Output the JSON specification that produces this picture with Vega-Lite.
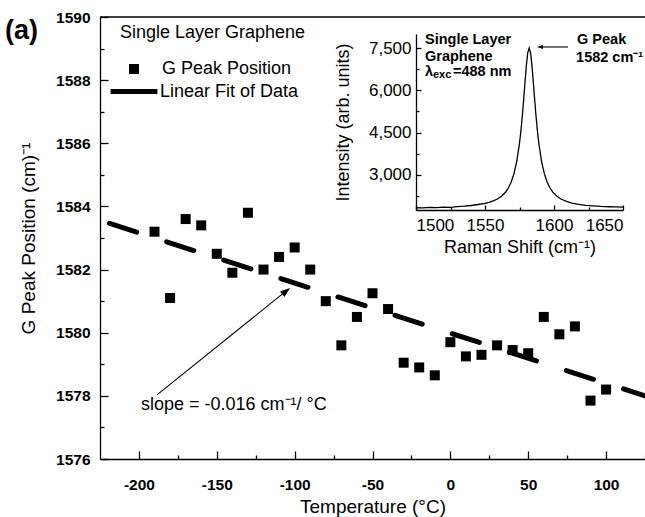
{
  "$schema": "https://vega.github.io/schema/vega-lite/v6.json",
  "width": 545,
  "height": 442,
  "autosize": {"type": "none"},
  "padding": {"left": 100, "top": 17, "right": 0, "bottom": 58},
  "background": "white",
  "config": {
    "view": {"stroke": null},
    "font": "Liberation Sans",
    "axis": {"domainColor": "black", "tickColor": "black", "labelColor": "black", "titleColor": "black", "grid": false, "domainWidth": 1.3, "tickWidth": 1.3, "labelFont": "Liberation Sans", "titleFont": "Liberation Sans"},
    "legend": {"titleFont": "Liberation Sans", "labelFont": "Liberation Sans", "titleColor": "black", "labelColor": "black", "titleLimit": 400, "labelLimit": 400},
    "text": {"font": "Liberation Sans", "color": "black"}
  },
  "datasets": {
    "peaks": [
      {"temperature": -190, "position": 1583.2},
      {"temperature": -180, "position": 1581.1},
      {"temperature": -170, "position": 1583.6},
      {"temperature": -160, "position": 1583.4},
      {"temperature": -150, "position": 1582.5},
      {"temperature": -140, "position": 1581.9},
      {"temperature": -130, "position": 1583.8},
      {"temperature": -120, "position": 1582.0},
      {"temperature": -110, "position": 1582.4},
      {"temperature": -100, "position": 1582.7},
      {"temperature": -90, "position": 1582.0},
      {"temperature": -80, "position": 1581.0},
      {"temperature": -70, "position": 1579.6},
      {"temperature": -60, "position": 1580.5},
      {"temperature": -50, "position": 1581.25},
      {"temperature": -40, "position": 1580.75},
      {"temperature": -30, "position": 1579.05},
      {"temperature": -20, "position": 1578.9},
      {"temperature": -10, "position": 1578.65},
      {"temperature": 0, "position": 1579.7},
      {"temperature": 10, "position": 1579.25},
      {"temperature": 20, "position": 1579.3},
      {"temperature": 30, "position": 1579.6},
      {"temperature": 40, "position": 1579.45},
      {"temperature": 50, "position": 1579.35},
      {"temperature": 60, "position": 1580.5},
      {"temperature": 70, "position": 1579.95},
      {"temperature": 80, "position": 1580.2},
      {"temperature": 90, "position": 1577.85},
      {"temperature": 100, "position": 1578.2}
    ],
    "fit": [
      {"temperature": -225, "position": 1583.56},
      {"temperature": 125, "position": 1578.0}
    ],
    "spectrum": [
      {"shift": 1500, "intensity": 1830},
      {"shift": 1505, "intensity": 1822},
      {"shift": 1510, "intensity": 1840},
      {"shift": 1515, "intensity": 1836},
      {"shift": 1520, "intensity": 1852},
      {"shift": 1525, "intensity": 1846},
      {"shift": 1530, "intensity": 1872},
      {"shift": 1535, "intensity": 1885},
      {"shift": 1540, "intensity": 1910},
      {"shift": 1545, "intensity": 1945},
      {"shift": 1550, "intensity": 1985},
      {"shift": 1553, "intensity": 2020},
      {"shift": 1556, "intensity": 2075},
      {"shift": 1559, "intensity": 2140},
      {"shift": 1562, "intensity": 2240},
      {"shift": 1565, "intensity": 2390},
      {"shift": 1567, "intensity": 2540},
      {"shift": 1569, "intensity": 2745},
      {"shift": 1571, "intensity": 3040},
      {"shift": 1573, "intensity": 3470},
      {"shift": 1575, "intensity": 4120},
      {"shift": 1576, "intensity": 4552},
      {"shift": 1577, "intensity": 5068},
      {"shift": 1578, "intensity": 5661},
      {"shift": 1579, "intensity": 6296},
      {"shift": 1580, "intensity": 6894},
      {"shift": 1581, "intensity": 7335},
      {"shift": 1582, "intensity": 7500},
      {"shift": 1583, "intensity": 7335},
      {"shift": 1584, "intensity": 6894},
      {"shift": 1585, "intensity": 6296},
      {"shift": 1586, "intensity": 5661},
      {"shift": 1587, "intensity": 5068},
      {"shift": 1588, "intensity": 4552},
      {"shift": 1589, "intensity": 4120},
      {"shift": 1591, "intensity": 3470},
      {"shift": 1593, "intensity": 3040},
      {"shift": 1595, "intensity": 2745},
      {"shift": 1597, "intensity": 2540},
      {"shift": 1599, "intensity": 2395},
      {"shift": 1602, "intensity": 2245},
      {"shift": 1605, "intensity": 2140},
      {"shift": 1609, "intensity": 2055},
      {"shift": 1613, "intensity": 1995},
      {"shift": 1618, "intensity": 1950},
      {"shift": 1623, "intensity": 1915},
      {"shift": 1628, "intensity": 1898},
      {"shift": 1634, "intensity": 1876},
      {"shift": 1640, "intensity": 1866},
      {"shift": 1645, "intensity": 1858},
      {"shift": 1650, "intensity": 1852}
    ]
  },
  "layer": [
    {
      "layer": [
        {
          "data": {"name": "fit"},
          "mark": {"type": "line", "strokeWidth": 5, "strokeCap": "round", "strokeDash": [28.5, 31.5], "strokeDashOffset": 50},
          "encoding": {
            "x": {"field": "temperature", "type": "quantitative", "scale": {"domain": [-225, 125], "nice": false, "zero": false},
              "axis": {"orient": "bottom", "values": [-175, -125, -75, -25, 25, 75, 125], "tickSize": -4, "labels": false, "domain": false, "title": null}},
            "y": {"field": "position", "type": "quantitative", "scale": {"domain": [1576, 1590], "nice": false, "zero": false},
              "axis": {"orient": "left", "values": [1577, 1579, 1581, 1583, 1585, 1587, 1589], "tickSize": -4, "labels": false, "domain": false, "title": null}},
            "color": {"datum": "Linear Fit of Data", "type": "nominal",
              "scale": {"range": ["black"]},
              "legend": {
                "orient": "none", "legendX": 8, "legendY": 48.5, "padding": 0, "title": null,
                "labelFontSize": 18, "labelOffset": 0,
                "symbolType": "stroke", "symbolSize": 2200, "symbolStrokeWidth": 5, "symbolStrokeColor": "black", "symbolDash": [1, 0], "symbolOpacity": 1
              }}
          }
        },
        {
          "data": {"name": "peaks"},
          "mark": {"type": "point", "filled": true, "size": 100, "opacity": 1, "color": "black"},
          "encoding": {
            "x": {"field": "temperature", "type": "quantitative",
              "axis": {"orient": "bottom", "values": [-200, -150, -100, -50, 0, 50, 100], "labelExpr": "datum.value + ''", "tickSize": -8, "labelPadding": 26, "labelFontSize": 15.5, "labelFontWeight": "bold", "title": "Temperature (°C)", "titleFontSize": 19, "titleFontWeight": "normal", "titlePadding": 5}},
            "y": {"field": "position", "type": "quantitative",
              "axis": {"orient": "left", "values": [1576, 1578, 1580, 1582, 1584, 1586, 1588, 1590], "format": "d", "tickSize": -8, "labelPadding": 18, "labelFontSize": 15.5, "labelFontWeight": "bold", "title": "G Peak Position (cm)⁻¹", "titleFontSize": 19, "titleFontWeight": "normal", "titlePadding": 17}},
            "shape": {"datum": "G Peak Position", "type": "nominal",
              "scale": {"range": ["square"]},
              "legend": {
                "orient": "none", "legendX": 20, "legendY": 7, "padding": 0,
                "title": "Single Layer Graphene", "titleFontSize": 18, "titleFontWeight": "normal", "titlePadding": 18,
                "labelFontSize": 18, "labelOffset": 19,
                "symbolSize": 100, "symbolOffset": 5, "symbolFillColor": "black", "symbolStrokeWidth": 0, "symbolOpacity": 1
              }}
          }
        },
        {
          "data": {"values": [{}]},
          "mark": {"type": "rule", "color": "black", "strokeWidth": 1.3},
          "encoding": {"y": {"datum": 1590, "type": "quantitative", "axis": null}}
        },
        {
          "data": {"values": [{}]},
          "mark": {"type": "rule", "color": "black", "strokeWidth": 1.1},
          "encoding": {
            "x": {"datum": -188.4, "type": "quantitative", "axis": null},
            "y": {"datum": 1578.03, "type": "quantitative", "axis": null},
            "x2": {"datum": -104},
            "y2": {"datum": 1581.38}
          }
        },
        {
          "data": {"values": [{}]},
          "mark": {"type": "point", "shape": "M0,0 L-0.35,1 L0.35,1 Z", "size": 400, "filled": true, "color": "black", "opacity": 1, "angle": 51},
          "encoding": {
            "x": {"datum": -103, "type": "quantitative", "axis": null},
            "y": {"datum": 1581.42, "type": "quantitative", "axis": null}
          }
        },
        {
          "data": {"values": [{}]},
          "mark": {"type": "text", "text": "slope = -0.016 cm⁻¹/ °C", "fontSize": 18, "align": "center", "baseline": "middle"},
          "encoding": {
            "x": {"datum": -139, "type": "quantitative", "axis": null},
            "y": {"datum": 1577.71, "type": "quantitative", "axis": null}
          }
        },
        {
          "data": {"values": [{}]},
          "mark": {"type": "text", "text": "(a)", "fontSize": 27, "fontWeight": "bold", "align": "center", "baseline": "middle"},
          "encoding": {
            "x": {"datum": -275.4, "type": "quantitative", "axis": null},
            "y": {"datum": 1589.55, "type": "quantitative", "axis": null}
          }
        }
      ],
      "resolve": {"axis": {"x": "independent", "y": "independent"}}
    },
    {
      "layer": [
        {
          "data": {"name": "spectrum"},
          "mark": {"type": "line", "color": "black", "strokeWidth": 1.3},
          "encoding": {
            "x": {"field": "shift", "type": "quantitative", "scale": {"domain": [1500, 1650], "range": [316, 523], "nice": false, "zero": false},
              "axis": {"orient": "bottom", "offset": -249, "values": [1500, 1550, 1600, 1650], "format": "d", "tickSize": -5, "labelPadding": 12, "labelFontSize": 17, "labelFontWeight": "normal", "title": "Raman Shift (cm⁻¹)", "titleFontSize": 18, "titleFontWeight": "normal", "titlePadding": 5}},
            "y": {"field": "intensity", "type": "quantitative", "scale": {"domain": [1750, 8000], "range": [193, 17], "nice": false, "zero": false},
              "axis": {"orient": "left", "offset": -316, "values": [3000, 4500, 6000, 7500], "format": ",d", "tickSize": -5, "labelPadding": 10, "labelFontSize": 17, "labelFontWeight": "normal", "title": "Intensity (arb. units)", "titleFontSize": 18, "titleFontWeight": "normal", "titlePadding": 16}}
          }
        },
        {
          "data": {"values": [{}]},
          "mark": {"type": "rule", "color": "black", "strokeWidth": 1.1},
          "encoding": {
            "x": {"datum": 1610.1, "type": "quantitative",
              "axis": {"orient": "bottom", "offset": -249, "values": [1525, 1575, 1625], "tickSize": -3, "labels": false, "domain": false, "title": null}},
            "x2": {"datum": 1589},
            "y": {"datum": 7539, "type": "quantitative",
              "axis": {"orient": "left", "offset": -316, "values": [2250, 3750, 5250, 6750], "tickSize": -3, "labels": false, "domain": false, "title": null}}
          }
        },
        {
          "data": {"values": [{}]},
          "mark": {"type": "point", "shape": "M0,0 L-0.35,1 L0.35,1 Z", "size": 144, "filled": true, "color": "black", "opacity": 1, "angle": 270},
          "encoding": {
            "x": {"datum": 1587.7, "type": "quantitative", "axis": null},
            "y": {"datum": 7539, "type": "quantitative", "axis": null}
          }
        },
        {
          "data": {"values": [{}]},
          "mark": {"type": "text", "text": "Single Layer", "fontSize": 14.5, "fontWeight": "bold", "align": "left", "baseline": "middle"},
          "encoding": {
            "x": {"datum": 1506.5, "type": "quantitative", "axis": null},
            "y": {"datum": 7787, "type": "quantitative", "axis": null}
          }
        },
        {
          "data": {"values": [{}]},
          "mark": {"type": "text", "text": "Graphene", "fontSize": 14.5, "fontWeight": "bold", "align": "left", "baseline": "middle"},
          "encoding": {
            "x": {"datum": 1506.5, "type": "quantitative", "axis": null},
            "y": {"datum": 7195, "type": "quantitative", "axis": null}
          }
        },
        {
          "data": {"values": [{}]},
          "mark": {"type": "text", "text": "λ", "fontSize": 14.5, "fontWeight": "bold", "align": "left", "baseline": "middle"},
          "encoding": {
            "x": {"datum": 1506.5, "type": "quantitative", "axis": null},
            "y": {"datum": 6663, "type": "quantitative", "axis": null}
          }
        },
        {
          "data": {"values": [{}]},
          "mark": {"type": "text", "text": "exc", "fontSize": 11, "fontWeight": "bold", "align": "left", "baseline": "middle", "dx": 8, "dy": 3},
          "encoding": {
            "x": {"datum": 1506.5, "type": "quantitative", "axis": null},
            "y": {"datum": 6663, "type": "quantitative", "axis": null}
          }
        },
        {
          "data": {"values": [{}]},
          "mark": {"type": "text", "text": "=488 nm", "fontSize": 14.5, "fontWeight": "bold", "align": "left", "baseline": "middle", "dx": 28},
          "encoding": {
            "x": {"datum": 1506.5, "type": "quantitative", "axis": null},
            "y": {"datum": 6663, "type": "quantitative", "axis": null}
          }
        },
        {
          "data": {"values": [{}]},
          "mark": {"type": "text", "text": "G Peak", "fontSize": 14.5, "fontWeight": "bold", "align": "left", "baseline": "middle"},
          "encoding": {
            "x": {"datum": 1616.7, "type": "quantitative", "axis": null},
            "y": {"datum": 7787, "type": "quantitative", "axis": null}
          }
        },
        {
          "data": {"values": [{}]},
          "mark": {"type": "text", "text": "1582 cm⁻¹", "fontSize": 14.5, "fontWeight": "bold", "align": "left", "baseline": "middle"},
          "encoding": {
            "x": {"datum": 1616, "type": "quantitative", "axis": null},
            "y": {"datum": 7149, "type": "quantitative", "axis": null}
          }
        }
      ],
      "resolve": {"axis": {"x": "independent", "y": "independent"}}
    }
  ],
  "resolve": {"scale": {"x": "independent", "y": "independent"}, "axis": {"x": "independent", "y": "independent"}}
}
